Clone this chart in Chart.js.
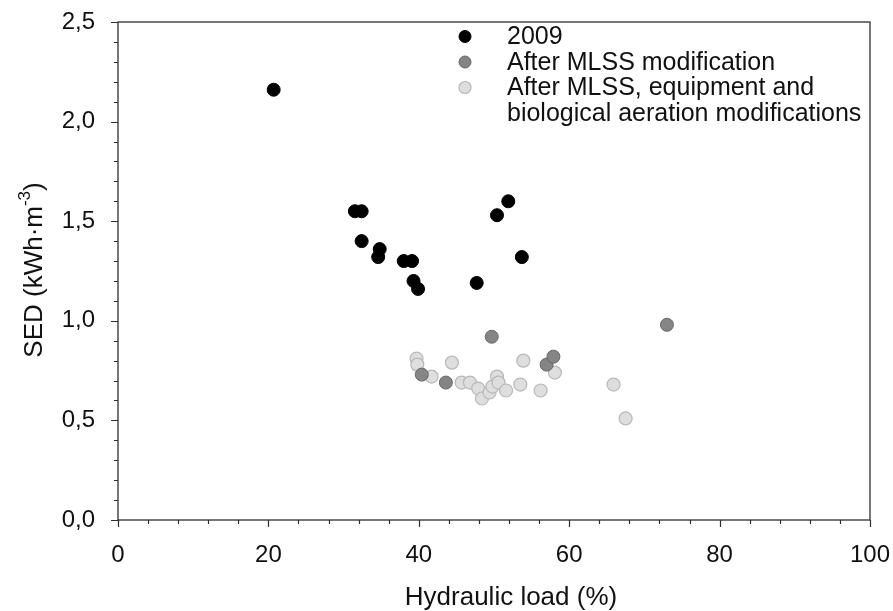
<!DOCTYPE html>
<html>
<head>
<meta charset="utf-8">
<script src="https://cdn.jsdelivr.net/npm/chart.js@4.4.1/dist/chart.umd.min.js"></script>
<style>
html,body{margin:0;padding:0;background:#fff;}
canvas{display:block;}
</style>
</head>
<body>
<canvas id="c" width="893" height="611"></canvas>
<script>
// ---- data ----
const seriesNames = ["2009", "After MLSS modification", "After MLSS, equipment and|biological aeration modifications"];

const x2009 = [20.7, 31.5, 32.4, 32.4, 34.8, 34.6, 38.0, 39.1, 39.3, 39.9, 47.7, 50.4, 51.9, 53.7];
const y2009 = [2.16, 1.55, 1.55, 1.40, 1.36, 1.32, 1.30, 1.30, 1.20, 1.16, 1.19, 1.53, 1.60, 1.32];

const xMlss = [40.4, 43.6, 49.7, 57.0, 57.9, 73.0];
const yMlss = [0.73, 0.69, 0.92, 0.78, 0.82, 0.98];

const xAll = [39.7, 39.8, 41.7, 44.4, 45.7, 46.8, 47.9, 48.4, 49.4, 49.8, 50.4, 50.6, 51.6, 53.5, 53.9, 56.2, 58.1, 65.9, 67.5];
const yAll = [0.81, 0.78, 0.72, 0.79, 0.69, 0.69, 0.66, 0.61, 0.64, 0.67, 0.72, 0.69, 0.65, 0.68, 0.80, 0.65, 0.74, 0.68, 0.51];

const xTickValues = [0, 20, 40, 60, 80, 100];
const yTickValues = [0, 0.5, 1.0, 1.5, 2.0, 2.5];
const xTitle = "Hydraulic load (%)";
const yTitleMain = "SED (kWh\u00B7m";
const yTitleSup = "-3";
const yTitleEnd = ")";

function pts(xs, ys){ return xs.map((x,i)=>({x:x, y:ys[i]})); }

const FONT = "'Liberation Sans', Arial, sans-serif";

const decorPlugin = {
  id: 'decor',
  afterDraw(chart){
    const ctx = chart.ctx;
    const a = chart.chartArea;
    const xs = chart.scales.x, ys = chart.scales.y;
    ctx.save();
    // frame
    ctx.strokeStyle = '#2e2e2e';
    ctx.lineWidth = 1.3;
    ctx.strokeRect(a.left, a.top, a.right - a.left, a.bottom - a.top);
    // x ticks
    ctx.lineWidth = 1.2;
    ctx.beginPath();
    for (let v = 0; v <= 100.001; v += 4) {
      const p = Math.round(xs.getPixelForValue(v)) + 0.5;
      const major = Math.abs(v % 20) < 1e-6;
      ctx.moveTo(p, a.bottom);
      ctx.lineTo(p, a.bottom + (major ? 7 : 4));
    }
    // y ticks
    for (let i = 0; i <= 25; i++) {
      const v = i / 10;
      const p = Math.round(ys.getPixelForValue(v)) + 0.5;
      const major = i % 5 === 0;
      ctx.moveTo(a.left, p);
      ctx.lineTo(a.left - (major ? 7 : 4), p);
    }
    ctx.stroke();

    // x title
    ctx.fillStyle = '#111';
    ctx.font = "26px " + FONT;
    ctx.textAlign = 'center';
    ctx.textBaseline = 'alphabetic';
    ctx.fillText(xTitle, 511, 605);

    // y title (rotated with superscript)
    ctx.save();
    ctx.translate(42, 270);
    ctx.rotate(-Math.PI/2);
    ctx.textAlign = 'left';
    const mainFont = "26px " + FONT, supFont = "17px " + FONT;
    ctx.font = mainFont;
    const w1 = ctx.measureText(yTitleMain).width;
    const w3 = ctx.measureText(yTitleEnd).width;
    ctx.font = supFont;
    const w2 = ctx.measureText(yTitleSup).width;
    let sx = -(w1 + w2 + w3) / 2;
    ctx.font = mainFont;
    ctx.fillText(yTitleMain, sx, 0);
    sx += w1;
    ctx.font = supFont;
    ctx.fillText(yTitleSup, sx, -12);
    sx += w2;
    ctx.font = mainFont;
    ctx.fillText(yTitleEnd, sx, 0);
    ctx.restore();

    // legend
    const markerX = 465, textX = 507;
    const baselines = [44, 69.5, 95, 121];
    let row = 0;
    chart.data.datasets.forEach((ds, i) => {
      const lines = seriesNames[i].split('|');
      const by = baselines[row];
      ctx.beginPath();
      ctx.arc(markerX, by - 7.5, 6, 0, Math.PI*2);
      ctx.fillStyle = ds.backgroundColor;
      ctx.fill();
      ctx.lineWidth = ds.borderWidth;
      ctx.strokeStyle = ds.borderColor;
      ctx.stroke();
      ctx.fillStyle = '#111';
      ctx.font = "25px " + FONT;
      ctx.textAlign = 'left';
      lines.forEach((ln, k) => {
        ctx.fillText(ln, textX, baselines[row + k]);
      });
      row += lines.length;
    });
    ctx.restore();
  }
};

new Chart(document.getElementById('c'), {
  type: 'scatter',
  data: {
    datasets: [
      { label: seriesNames[0], data: pts(x2009, y2009), backgroundColor: '#000000', borderColor: '#000000', borderWidth: 1, pointRadius: 6.5 },
      { label: seriesNames[1], data: pts(xMlss, yMlss), backgroundColor: '#858585', borderColor: '#666666', borderWidth: 1, pointRadius: 6.5 },
      { label: seriesNames[2], data: pts(xAll, yAll), backgroundColor: '#dedede', borderColor: '#b8b8b8', borderWidth: 1.2, pointRadius: 6.5 }
    ]
  },
  options: {
    responsive: false,
    animation: false,
    devicePixelRatio: 1,
    layout: { padding: { top: 22, right: 23, left: 0, bottom: 0 } },
    plugins: { legend: { display: false }, tooltip: { enabled: false } },
    scales: {
      x: {
        type: 'linear', min: 0, max: 100,
        grid: { display: false, drawTicks: false },
        border: { display: false },
        afterBuildTicks(s){ s.ticks = xTickValues.map(v => ({value: v})); },
        afterFit(s){ s.height = 91; s.paddingLeft = 0; s.paddingRight = 0; s.paddingTop = 0; s.paddingBottom = 0; },
        ticks: { padding: 21, color: '#111', font: { family: FONT, size: 24 }, maxRotation: 0,
                 callback: v => String(v) }
      },
      y: {
        type: 'linear', min: 0, max: 2.5,
        grid: { display: false, drawTicks: false },
        border: { display: false },
        afterBuildTicks(s){ s.ticks = yTickValues.map(v => ({value: v})); },
        afterFit(s){ s.width = 118; s.paddingLeft = 0; s.paddingRight = 0; s.paddingTop = 0; s.paddingBottom = 0; },
        ticks: { padding: 23, color: '#111', font: { family: FONT, size: 24 },
                 callback: v => Number(v).toFixed(1).replace('.', ',') }
      }
    }
  },
  plugins: [decorPlugin]
});
</script>
</body>
</html>
